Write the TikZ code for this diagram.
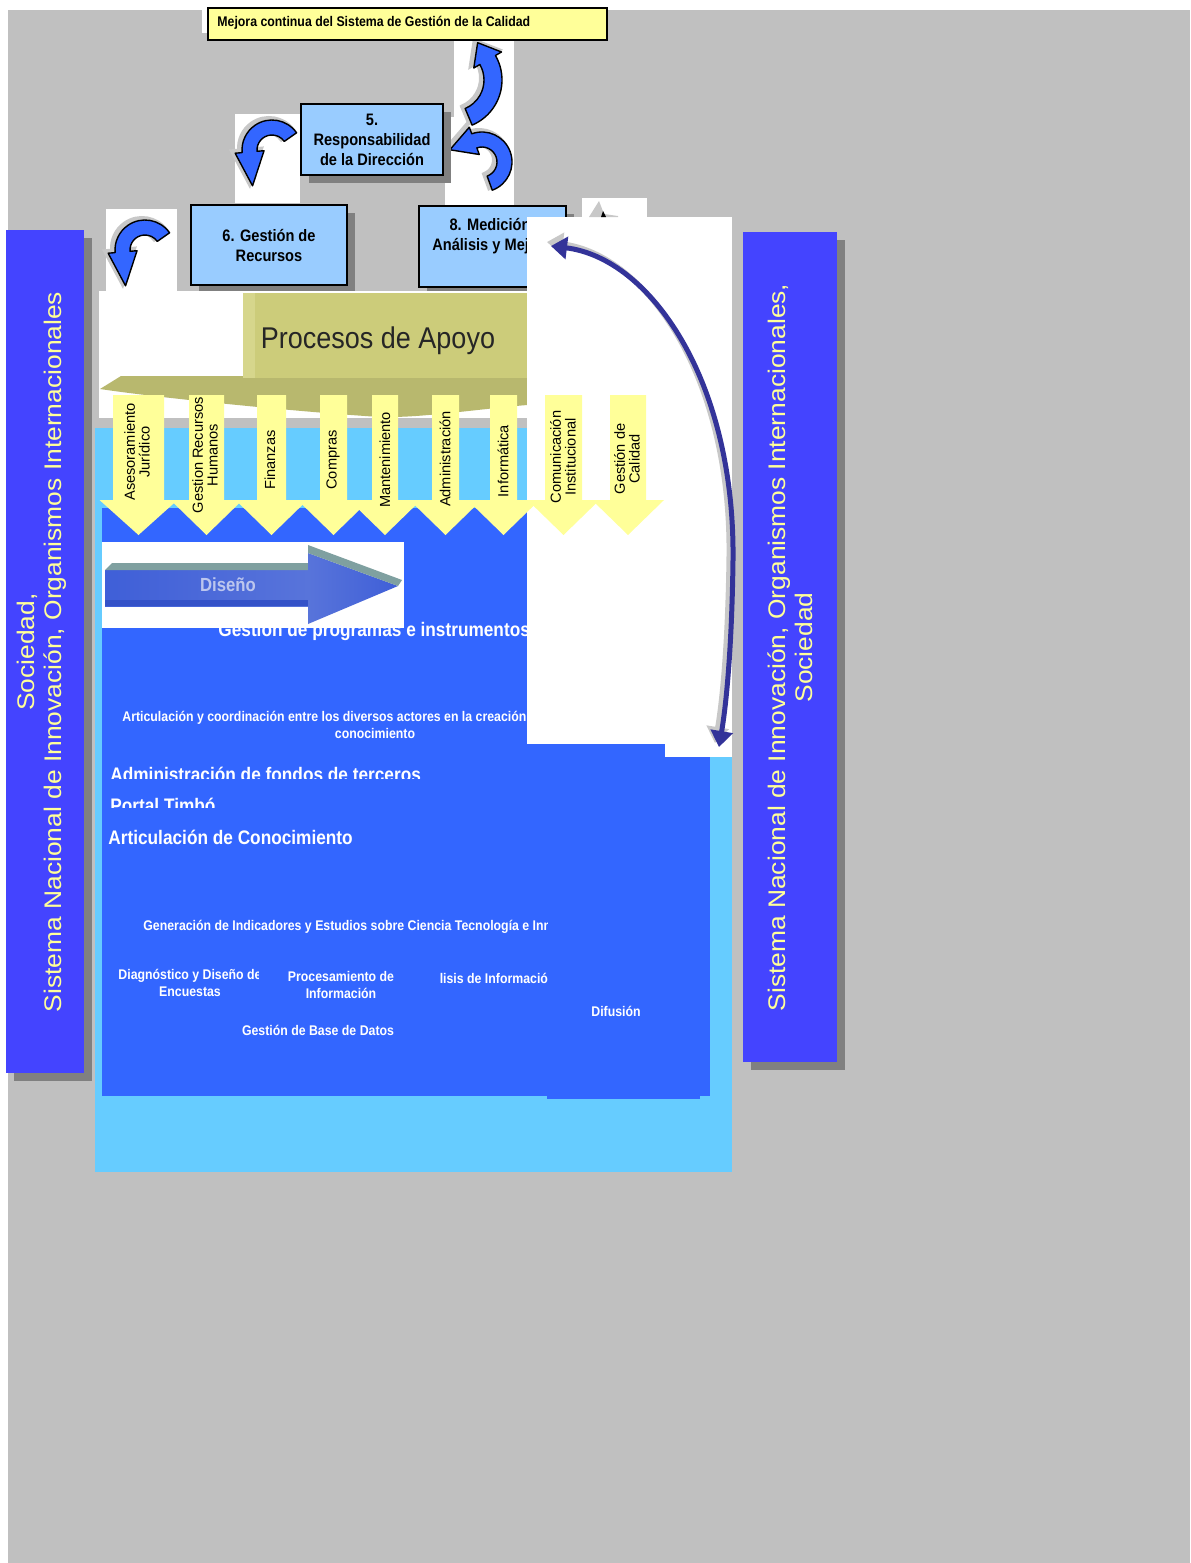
\documentclass[tikz,border=0pt]{standalone}
\usepackage{fontspec}
\setmainfont{Liberation Sans}
\newfontfamily\nar[FakeStretch=0.88]{Liberation Sans}
\newfontfamily\widesans[FakeStretch=1.1]{Liberation Sans}
\newfontfamily\procfont[FakeStretch=0.9]{Liberation Sans}
\usetikzlibrary{calc,arrows.meta,shadows}

\definecolor{bggray}{RGB}{192,192,192}
\definecolor{shadowgray}{RGB}{128,128,128}
\definecolor{ghostgray}{RGB}{200,200,200}
\definecolor{boxblue}{RGB}{153,204,255}
\definecolor{paleyellow}{RGB}{255,255,153}
\definecolor{panelblue}{RGB}{68,68,255}
\definecolor{lightblue}{RGB}{102,204,255}
\definecolor{midblue}{RGB}{51,102,255}
\definecolor{cblue}{RGB}{51,102,255}
\definecolor{navy}{RGB}{51,51,153}
\definecolor{olive}{RGB}{204,204,122}
\definecolor{olivedark}{RGB}{184,184,110}
\definecolor{olivelight}{RGB}{214,214,140}
\definecolor{dblueA}{RGB}{63,95,216}
\definecolor{dblueB}{RGB}{88,116,218}
\definecolor{dblueC}{RGB}{52,82,200}
\definecolor{dface}{RGB}{127,160,160}
\definecolor{dtext}{RGB}{188,198,238}

\tikzset{
  pics/carrow/.style n args={5}{code={
    \pgfmathsetmacro\caM{(#3+#4)/2}
    \pgfmathsetmacro\caO{#3+7}
    \pgfmathsetmacro\caI{#4-7}
    \pgfmathsetmacro\caT{#2+90}
    \path[fill=ghostgray, draw=ghostgray, line width=2pt, shift={(-3,2)}]
      (#1:#3) arc[start angle=#1,end angle=#2,radius=#3] -- (#2:\caO)
      -- ($(#2:\caM)+(\caT:#5)$) -- (#2:\caI) -- (#2:#4)
      arc[start angle=#2,end angle=#1,radius=#4] -- cycle;
    \path[fill=cblue, draw=black, line width=0.7pt, line join=round]
      (#1:#3) arc[start angle=#1,end angle=#2,radius=#3] -- (#2:\caO)
      -- ($(#2:\caM)+(\caT:#5)$) -- (#2:\caI) -- (#2:#4)
      arc[start angle=#2,end angle=#1,radius=#4] -- cycle;
  }},
  pics/ydown/.style 2 args={code={
    \fill[paleyellow] (-#1,0) -- (#1,0) -- (#1,105) -- (#2,105) -- (0,140)
      -- (-#2,105) -- (-#1,105) -- cycle;
  }},
  panel/.style={fill=panelblue, inner sep=0pt,
    general shadow={fill=shadowgray, shadow xshift=4pt, shadow yshift=-4pt}},
  paneltext/.style={rotate=90, align=center, text=paleyellow, inner sep=0pt,
    font=\widesans\fontsize{12}{13.5}\selectfont},
  procbox/.style={draw=black, line width=1pt, fill=boxblue, inner sep=0pt,
    general shadow={fill=shadowgray, shadow xshift=4pt, shadow yshift=-4pt}},
  boxtext/.style={align=center, inner sep=0pt, font=\nar\bfseries\fontsize{8.3}{10}\selectfont},
  ylab/.style={rotate=90, align=center, inner sep=0pt, font=\fontsize{7.3}{7.4}\selectfont},
  wsmall/.style={text=white, align=center, inner sep=0pt, font=\nar\bfseries\fontsize{7}{8.5}\selectfont},
  wbig/.style={text=white, inner sep=0pt, font=\nar\bfseries\fontsize{9.8}{11}\selectfont},
  dbl/.style={line width=2.5pt, {Triangle[length=8pt,width=11pt]}-{Triangle[length=8pt,width=11pt]}},
}

\begin{document}
\begin{tikzpicture}[x=0.5pt,y=-0.5pt]
\useasboundingbox (0,0) rectangle (1190,1563);
\fill[white] (0,0) rectangle (1190,1563);
\fill[bggray] (8,10) rectangle (1190,1563);

% side panels
\node[panel, minimum width=39pt, minimum height=421.5pt] (lp) at (45,651.5) {};
\node[paneltext] (lpt) at (41.5,652) {Sociedad,\\Sistema Nacional de Innovación, Organismos Internacionales};
\node[panel, minimum width=47pt, minimum height=415pt] (rp) at (790,647) {};
\node[paneltext] (rpt) at (790,647.5) {Sistema Nacional de Innovación, Organismos Internacionales,\\Sociedad};

% curved arrows (white backings)
\fill[white] (202,7) rectangle (209,33);
\fill[white] (454,34) rectangle (514,127);
\fill[white] (445,117) rectangle (514,205);
\fill[white] (235,114) rectangle (300,203);
\fill[white] (106,209) rectangle (177,291);
\pic[yscale=-1] (a3) at (453,80) {carrow={-67}{30}{49}{31}{20}};
\pic[yscale=-1] (a2) at (482,162) {carrow={-70}{110}{30}{15}{26}};
\pic[yscale=-1] (a1) at (272,150) {carrow={35}{185}{30}{15}{34}};
\pic[yscale=-1] (a4) at (145,250) {carrow={35}{185}{30}{15}{34}};

% process boxes
\node[procbox, minimum width=71pt, minimum height=35.5pt] (b5) at (372,139.5) {};
\node[boxtext] (b5t) at (372,140) {5.\\Responsabilidad\\de la Dirección};
\node[procbox, minimum width=78pt, minimum height=40pt] (b6) at (269,245) {};
\node[boxtext] (b6t) at (269,245.5) {6. Gestión de\\Recursos};
\node[procbox, minimum width=73.5pt, minimum height=40.5pt] (b8) at (492.5,246.5) {};
\node[boxtext] (b8t) at (492,236) {8. Medición,\\Análisis y Mejora};

% lower area
\fill[lightblue] (95,428) rectangle (732,1172);
\fill[midblue] (102,508) rectangle (710,1096);
\fill[midblue] (547,1096) rectangle (700,1099);

\node[wbig, anchor=base west] (gp) at (218,636) {Gestión de programas e instrumentos};
\node[wsmall, anchor=base west] (ac1) at (122,721) {Articulación y coordinación entre los diversos actores en la creación};
\node[wsmall, anchor=base] (ac2) at (375,738) {conocimiento};
\begin{scope}
  \clip (100,750) rectangle (700,778);
  \node[wbig, anchor=base west] (af) at (110,781) {Administración de fondos de terceros};
\end{scope}
\begin{scope}
  \clip (100,790) rectangle (700,807);
  \node[wbig, anchor=base west] (pt) at (110,812) {Portal Timbó};
\end{scope}
\node[wbig, anchor=base west] (akc) at (108,844) {Articulación de Conocimiento};
\begin{scope}
  \clip (100,900) rectangle (547,950);
  \node[wsmall, anchor=base west] (gi) at (143,930) {Generación de Indicadores y Estudios sobre Ciencia Tecnología e Innovación};
\end{scope}
\begin{scope}
  \clip (100,955) rectangle (258,1005);
  \node[wsmall] (dd) at (190,982.5) {Diagnóstico y Diseño de\\Encuestas};
\end{scope}
\node[wsmall] (pi) at (341,984.5) {Procesamiento de\\Información};
\begin{scope}
  \clip (440,960) rectangle (547,1000);
  \node[wsmall] (ai) at (486,978) {Análisis de Información};
\end{scope}
\node[wsmall] (gb) at (318,1030) {Gestión de Base de Datos};
\node[wsmall] (df) at (616,1011) {Difusión};

% Procesos de Apoyo
\fill[white] (99,291) rectangle (527,418);
\fill[olivedark] (100,389) -- (121,376) -- (527,376) -- (527,405)
  .. controls (470,410) and (420,418) .. (380,417)
  .. controls (300,412) and (160,398) .. cycle;
\fill[olive] (243,293) rectangle (527,378);
\fill[olivelight] (243,293) rectangle (255,378);
\node[font=\procfont\fontsize{15}{15}\selectfont, text=black!85, inner sep=0pt] (proc) at (378,341) {Procesos de Apoyo};

% Diseno arrow
\fill[white] (102,542) rectangle (404,628);
\shade[left color=dblueA, right color=dblueB] (105,570) rectangle (309,606);
\fill[dblueC] (105,600) rectangle (309,606);
\fill[dface] (105,570) -- (112,563) -- (309,563) -- (309,570) -- cycle;
\shade[left color=dblueB, right color=dblueA] (308,553) -- (398,586) -- (308,624) -- cycle;
\fill[dface] (308,545) -- (402,580) -- (398,586) -- (308,553) -- cycle;
\node[font=\nar\bfseries\fontsize{9.5}{10}\selectfont, text=dtext, inner sep=0pt] (dis) at (228,585) {Diseño};

% white covers on the right
\fill[white] (527,217) rectangle (732,744);
\fill[white] (665,744) rectangle (732,757);
\fill[white] (582,198) rectangle (647,217);
\fill[ghostgray] (589,217) -- (599,201) -- (604,214) -- (618,216) -- (618,217) -- cycle;
\fill[black] (601,217) -- (603,211) -- (606,217) -- cycle;

% support process arrows
\pic (y1) at (138.5,395) {ydown={25.5}{39}};
\pic (y2) at (206.5,395) {ydown={17.5}{36}};
\pic (y3) at (271.5,395) {ydown={14.5}{36}};
\pic (y4) at (333.5,395) {ydown={13.5}{36}};
\pic (y5) at (385,395) {ydown={13}{36}};
\pic (y6) at (445.5,395) {ydown={13.5}{36}};
\pic (y7) at (503.5,395) {ydown={13.5}{36}};
\pic (y8) at (563.5,395) {ydown={18.5}{36}};
\pic (y9) at (628,395) {ydown={18}{36}};
\node[ylab] (l1) at (137,452) {Asesoramiento\\Jurídico};
\node[ylab] (l2) at (205,455) {Gestion Recursos\\Humanos};
\node[ylab] (l3) at (270,460) {Finanzas};
\node[ylab] (l4) at (333,460) {Compras};
\node[ylab] (l5) at (385,460) {Mantenimiento};
\node[ylab] (l6) at (445,459) {Administración};
\node[ylab] (l7) at (503,461) {Informática};
\node[ylab] (l8) at (563,457) {Comunicación\\Institucional};
\node[ylab] (l9) at (627,459) {Gestión de\\Calidad};

% big double arrow
\coordinate (dA) at (551,246);
\coordinate (dB) at (719,747);
\draw[dbl, ghostgray, transform canvas={xshift=-2pt,yshift=2pt}] (dA) .. controls (650,258) and (735,380) .. (733,560) .. controls (732,640) and (727,700) .. (dB);
\draw[dbl, navy] (dA) .. controls (650,258) and (735,380) .. (733,560) .. controls (732,640) and (727,700) .. (dB);

% top box
\node[draw=black, line width=1pt, fill=paleyellow, minimum width=199.5pt, minimum height=16pt, inner sep=0pt] (mj) at (407.5,24) {};
\node[anchor=west, inner sep=0pt, font=\nar\bfseries\fontsize{7}{8}\selectfont] (mjt) at (217,23) {Mejora continua del Sistema de Gestión de la Calidad};
\end{tikzpicture}
\end{document}
